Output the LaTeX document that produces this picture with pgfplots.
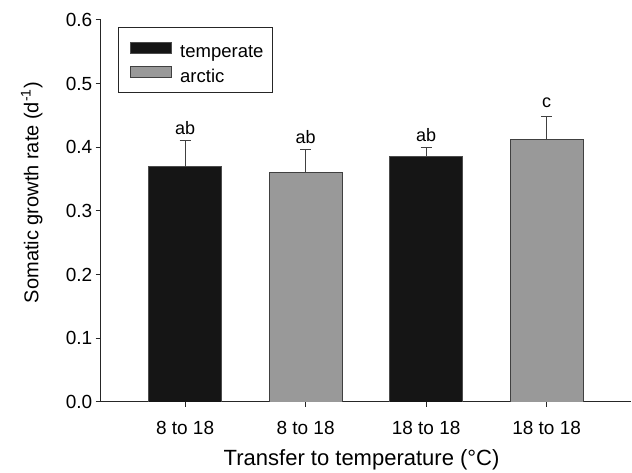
\documentclass[border=0pt]{standalone}
\usepackage{pgfplots}
\pgfplotsset{compat=1.18}
\usepackage{fontspec}
\setmainfont{Liberation Sans}
\definecolor{darkbar}{HTML}{151515}
\definecolor{graybar}{HTML}{999999}
\begin{document}
\begin{tikzpicture}
\path[use as bounding box] (-100.7pt,-71pt) rectangle (531.3pt,402pt);
\begin{axis}[
  scale only axis, width=530.3pt, height=382pt,
  anchor=south west, at={(0pt,0pt)},
  xmin=-0.7, xmax=3.7, ymin=0, ymax=0.6,
  axis x line=bottom, axis y line=left,
  axis line style={-, line width=1pt, color=black!85},
  xtick={0,1,2,3}, xticklabels={8 to 18,8 to 18,18 to 18,18 to 18},
  ytick={0,0.1,...,0.6},
  tick align=outside, major tick length=5pt,
  tick style={line width=1pt, color=black!85},
  /pgf/number format/assume math mode=true,
  yticklabel style={/pgf/number format/fixed, /pgf/number format/fixed zerofill, /pgf/number format/precision=1},
  ticklabel style={font=\fontsize{19}{22}\selectfont},
  xticklabel style={yshift=-11pt},
  xlabel={Transfer to temperature (°C)},
  ylabel={Somatic growth rate (d\textsuperscript{-1})},
  xlabel style={font=\fontsize{22}{26}\selectfont, at={(axis description cs:0.492,-0.165)}, anchor=base},
  ylabel style={font=\fontsize{20}{24}\selectfont, at={(axis description cs:-0.130,0.548)}, anchor=center},
  ybar, bar width=0.607, bar shift=0pt,
  legend style={at={(0.0332,0.9825)}, anchor=north west, draw=black!85, line width=1pt,
    font=\fontsize{18.5}{20}\selectfont, inner xsep=9.4pt, inner ysep=8pt,
    nodes={inner sep=0pt}, row sep=0pt, column sep=8.3pt, cells={anchor=west}},
  error bars/y dir=plus, error bars/y explicit,
  error bars/error bar style={line width=1pt, color=black!75},
  error bars/error mark options={rotate=90, mark size=5.5pt, line width=1pt, color=black!75},
]
\addplot[fill=darkbar, draw=black!70, line width=0.8pt,
  legend image code/.code={\path[draw=none, fill=none] (-2.3pt,-5.3pt) rectangle (41pt,17.4pt);
    \filldraw[fill=darkbar, draw=black!70, line width=0.8pt] (0pt,-0.7pt) rectangle (41pt,10.6pt);}]
  coordinates {(0,0.3696) +- (0,0.0404) (2,0.3863) +- (0,0.0137)};
\addlegendentry{temperate}
\addplot[fill=graybar, draw=black!75, line width=0.8pt,
  legend image code/.code={\path[draw=none, fill=none] (-2.3pt,-5.3pt) rectangle (41pt,17.4pt);
    \filldraw[fill=graybar, draw=black!75, line width=0.8pt] (0pt,-0.7pt) rectangle (41pt,10.6pt);}]
  coordinates {(1,0.3600) +- (0,0.0370) (3,0.4126) +- (0,0.0366)};
\addlegendentry{arctic}
\node[font=\fontsize{18}{20}\selectfont, anchor=base] at (axis cs:0,0.4205) {ab};
\node[font=\fontsize{18}{20}\selectfont, anchor=base] at (axis cs:1,0.4063) {ab};
\node[font=\fontsize{18}{20}\selectfont, anchor=base] at (axis cs:2,0.4088) {ab};
\node[font=\fontsize{18}{20}\selectfont, anchor=base] at (axis cs:3,0.4629) {c};
\end{axis}
\end{tikzpicture}
\end{document}
